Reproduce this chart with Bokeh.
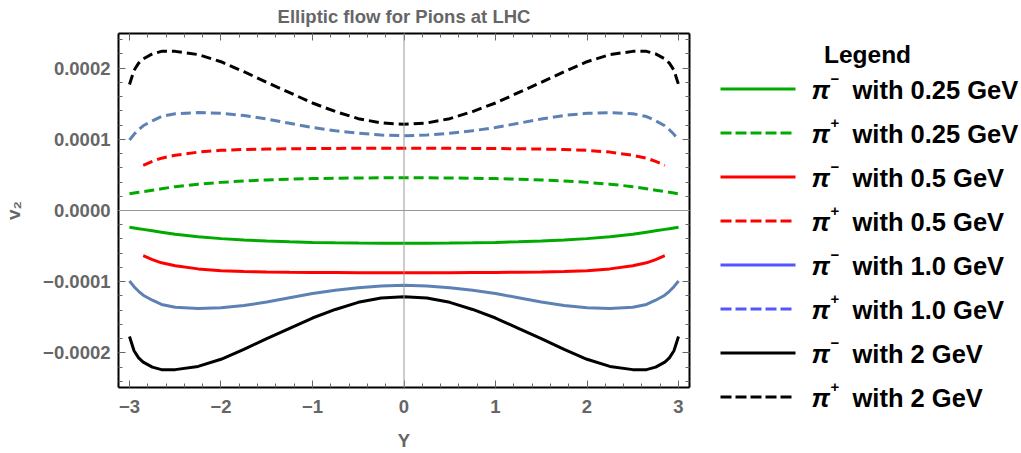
from bokeh.plotting import figure
from bokeh.layouts import row
from bokeh.models import (Range1d, LinearAxis, FixedTicker, CustomJSTickFormatter,
                          Span, ColumnDataSource)
from bokeh.embed import file_html
from bokeh.resources import INLINE
from bokeh.core.properties import value

TITLE = "Elliptic flow for Pions at LHC"
X_LABEL = "Y"
Y_LABEL = "v\u2082"
LEGEND_TITLE = "Legend"

# rapidity grid (full range curves)
rap = [-3.0, -2.95, -2.9, -2.85, -2.75, -2.65, -2.5, -2.25, -2.0, -1.75, -1.5, -1.25,
       -1.0, -0.75, -0.5, -0.25, 0.0, 0.25, 0.5, 0.75, 1.0, 1.25, 1.5, 1.75, 2.0,
       2.25, 2.5, 2.65, 2.75, 2.85, 2.9, 2.95, 3.0]
# rapidity grid for the 0.5 GeV curves
rap_05 = [-2.85, -2.75, -2.65, -2.5, -2.25, -2.0, -1.75, -1.5, -1.25, -1.0, -0.75,
          -0.5, -0.25, 0.0, 0.25, 0.5, 0.75, 1.0, 1.25, 1.5, 1.75, 2.0, 2.25, 2.5,
          2.65, 2.75, 2.85]

# v2 values in units of 1e-4
pim_025 = [-0.235, -0.245, -0.255, -0.265, -0.285, -0.305, -0.335, -0.37, -0.395, -0.415,
           -0.43, -0.44, -0.448, -0.453, -0.457, -0.459, -0.46, -0.459, -0.457, -0.453,
           -0.448, -0.44, -0.43, -0.415, -0.395, -0.37, -0.335, -0.305, -0.285, -0.265,
           -0.255, -0.245, -0.235]
pip_025 = [0.235, 0.245, 0.255, 0.265, 0.285, 0.305, 0.335, 0.37, 0.395, 0.415,
           0.43, 0.44, 0.448, 0.453, 0.457, 0.459, 0.46, 0.459, 0.457, 0.453,
           0.448, 0.44, 0.43, 0.415, 0.395, 0.37, 0.335, 0.305, 0.285, 0.265,
           0.255, 0.245, 0.235]
pim_05 = [-0.635, -0.69, -0.735, -0.775, -0.82, -0.845, -0.857, -0.863, -0.867, -0.87,
          -0.872, -0.874, -0.875, -0.875, -0.875, -0.874, -0.872, -0.87, -0.867, -0.863,
          -0.857, -0.845, -0.82, -0.775, -0.735, -0.69, -0.635]
pip_05 = [0.635, 0.69, 0.735, 0.775, 0.82, 0.845, 0.857, 0.863, 0.867, 0.87,
          0.872, 0.874, 0.875, 0.875, 0.875, 0.874, 0.872, 0.87, 0.867, 0.863,
          0.857, 0.845, 0.82, 0.775, 0.735, 0.69, 0.635]
pim_10 = [-0.99, -1.07, -1.135, -1.19, -1.26, -1.32, -1.36, -1.375, -1.365, -1.335,
          -1.285, -1.225, -1.165, -1.12, -1.085, -1.06, -1.05, -1.06, -1.085, -1.12,
          -1.165, -1.225, -1.285, -1.335, -1.365, -1.375, -1.36, -1.32, -1.26, -1.19,
          -1.135, -1.07, -0.99]
pip_10 = [0.99, 1.07, 1.135, 1.19, 1.26, 1.32, 1.36, 1.375, 1.365, 1.335,
          1.285, 1.225, 1.165, 1.12, 1.085, 1.06, 1.05, 1.06, 1.085, 1.12,
          1.165, 1.225, 1.285, 1.335, 1.365, 1.375, 1.36, 1.32, 1.26, 1.19,
          1.135, 1.07, 0.99]
pim_2 = [-1.77, -1.97, -2.07, -2.13, -2.20, -2.235, -2.235, -2.19, -2.09, -1.95,
         -1.80, -1.655, -1.51, -1.39, -1.29, -1.23, -1.21, -1.23, -1.29, -1.39,
         -1.51, -1.655, -1.80, -1.95, -2.09, -2.19, -2.235, -2.235, -2.20, -2.13,
         -2.07, -1.97, -1.77]
pip_2 = [1.77, 1.97, 2.07, 2.13, 2.20, 2.235, 2.235, 2.19, 2.09, 1.95,
         1.80, 1.655, 1.51, 1.39, 1.29, 1.23, 1.21, 1.23, 1.29, 1.39,
         1.51, 1.655, 1.80, 1.95, 2.09, 2.19, 2.235, 2.235, 2.20, 2.13,
         2.07, 1.97, 1.77]

charges = ["\u2212", "+", "\u2212", "+", "\u2212", "+", "\u2212", "+"]
energies = ["with 0.25 GeV", "with 0.25 GeV", "with 0.5 GeV", "with 0.5 GeV",
            "with 1.0 GeV", "with 1.0 GeV", "with 2 GeV", "with 2 GeV"]

x_ticks = [-3, -2, -1, 0, 1, 2, 3]
y_ticks = [-0.0002, -0.0001, 0.0, 0.0001, 0.0002]

GREEN = "#00AA00"
RED = "#FF0000"
BLUE_PLOT = "#5E81B5"
BLUE_LEG = "#5555FF"
BLACK = "#000000"
GRAY = "#666666"
FONT = "Liberation Sans"

series = [
    (rap, pim_025, GREEN, "solid"),
    (rap, pip_025, GREEN, "10 5"),
    (rap_05, pim_05, RED, "solid"),
    (rap_05, pip_05, RED, "10 5"),
    (rap, pim_10, BLUE_PLOT, "solid"),
    (rap, pip_10, BLUE_PLOT, "10 5"),
    (rap, pim_2, BLACK, "solid"),
    (rap, pip_2, BLACK, "10 5"),
]
legend_colors = [GREEN, GREEN, RED, RED, BLUE_LEG, BLUE_LEG, BLACK, BLACK]
legend_dash = ["solid", "11 4", "solid", "11 4", "solid", "11 4", "solid", "11 4"]

W_MAIN = 700
H = 453

p = figure(width=W_MAIN, height=H, output_backend="svg", toolbar_location=None,
           x_range=Range1d(-3.12, 3.12), y_range=Range1d(-0.0002486, 0.0002486),
           min_border_left=117, min_border_right=11, min_border_top=33,
           min_border_bottom=66)
p.title.text = TITLE
p.title.align = "center"
p.title.vertical_align = "top"
p.title.text_font = FONT
p.title.text_font_size = "18.5px"
p.title.text_font_style = "bold"
p.title.text_color = GRAY
p.title.standoff = 10
p.grid.visible = False
p.outline_line_color = None
p.background_fill_color = "white"
p.border_fill_color = "white"

top_axis = LinearAxis()
right_axis = LinearAxis()
p.add_layout(top_axis, "above")
p.add_layout(right_axis, "right")

xfmt = CustomJSTickFormatter(code="return tick < 0 ? '\u2212' + Math.abs(tick) : '' + tick;")
yfmt = CustomJSTickFormatter(code="return (tick < -1e-12 ? '\u2212' : '') + Math.abs(tick).toFixed(4);")

x_minor = [round(-3.0 + 0.2 * i, 2) for i in range(31)]
y_minor = [round(-0.00024 + 0.00002 * i, 6) for i in range(25)]

bottom_axis = p.below[0]
left_axis = p.left[0]

for ax in (bottom_axis, top_axis):
    ax.ticker = FixedTicker(ticks=x_ticks, minor_ticks=x_minor)
    ax.formatter = xfmt
for ax in (left_axis, right_axis):
    ax.ticker = FixedTicker(ticks=y_ticks, minor_ticks=y_minor)
    ax.formatter = yfmt

for ax in (bottom_axis, top_axis, left_axis, right_axis):
    ax.axis_line_color = BLACK
    ax.axis_line_width = 2
    ax.major_tick_in = 7
    ax.major_tick_out = 0
    ax.minor_tick_in = 4
    ax.minor_tick_out = 0
    ax.major_tick_line_color = GRAY
    ax.minor_tick_line_color = GRAY
    ax.major_tick_line_width = 1
    ax.minor_tick_line_width = 1
    ax.major_label_text_font = FONT
    ax.major_label_text_font_style = "bold"
    ax.major_label_text_font_size = "18.5px"
    ax.major_label_text_color = GRAY
    ax.axis_label_text_font = FONT
    ax.axis_label_text_font_style = "bold"
    ax.axis_label_text_color = GRAY

# top/right axes: ticks only, no labels drawn
for ax in (top_axis, right_axis):
    ax.major_label_text_color = None
    ax.major_label_text_font_size = "1px"
    ax.major_label_standoff = 0

bottom_axis.axis_label = X_LABEL
bottom_axis.major_label_standoff = 12
bottom_axis.axis_label_standoff = 14
bottom_axis.axis_label_text_font_size = "18.5px"
left_axis.axis_label = Y_LABEL
left_axis.major_label_standoff = 8
left_axis.axis_label_standoff = 16
left_axis.axis_label_text_font_size = "19px"

p.add_layout(Span(location=0, dimension="height", line_color="#999999", line_width=1))
p.add_layout(Span(location=0, dimension="width", line_color="#999999", line_width=1))

for xs, ys, col, dash in series:
    src = ColumnDataSource(dict(x=xs, y=[v * 1e-4 for v in ys]))
    p.line("x", "y", source=src, line_color=col, line_width=3, line_dash=dash)

# legend panel
lg = figure(width=1021 - W_MAIN, height=H, output_backend="svg", toolbar_location=None,
            x_range=Range1d(0, 1021 - W_MAIN), y_range=Range1d(H, 0),
            min_border=0, min_border_left=0, min_border_right=0,
            min_border_top=0, min_border_bottom=0)
if "frame_align" in lg.properties():
    lg.frame_align = False
    p.frame_align = False
lg.axis.visible = False
lg.grid.visible = False
lg.outline_line_color = None

ROW0 = 88.5
DY = 44.0
n = len(energies)
ys_rows = [ROW0 + DY * i for i in range(n)]
for i in range(n):
    lg.line([20, 95], [ys_rows[i], ys_rows[i]], line_color=legend_colors[i], line_width=3,
            line_dash=legend_dash[i])

lg.text(x=[167], y=[54], text=[LEGEND_TITLE], text_font=value(FONT), text_font_style="bold",
        text_font_size="24.5px", text_color=BLACK, text_align="center", text_baseline="middle")
lg.text(x=[111] * n, y=[y + 1 for y in ys_rows], text=["\u03c0"] * n, text_font=value(FONT),
        text_font_style="bold italic", text_font_size="26px", text_color=BLACK,
        text_align="left", text_baseline="middle")
lg.text(x=[130] * n, y=[y - 10 for y in ys_rows], text=charges, text_font=value(FONT),
        text_font_style="bold", text_font_size="15px", text_color=BLACK,
        text_align="left", text_baseline="middle")
lg.text(x=[152] * n, y=[y + 1 for y in ys_rows], text=energies, text_font=value(FONT),
        text_font_style="bold", text_font_size="25.5px", text_color=BLACK,
        text_align="left", text_baseline="middle")

layout = row(p, lg)
open("out.html", "w").write(file_html(layout, INLINE))
